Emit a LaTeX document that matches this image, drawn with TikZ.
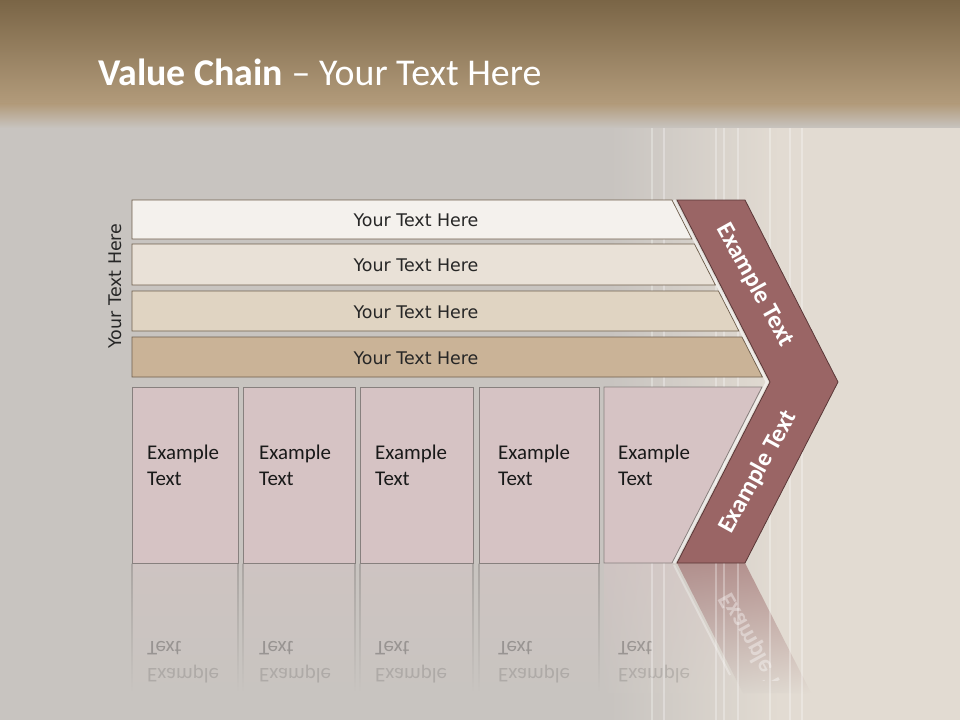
\documentclass[tikz,border=0pt]{standalone}
\usepackage{fontspec}
\setmainfont{Carlito}
\newfontfamily\dejavu{DejaVu Sans}
\usetikzlibrary{calc,shadings}
\definecolor{hdrtop}{RGB}{122,101,70}
\definecolor{hdrbot}{RGB}{178,155,123}
\definecolor{bggrey}{RGB}{200,196,192}
\definecolor{bglight}{RGB}{226,219,210}
\definecolor{barA}{RGB}{244,241,237}
\definecolor{barB}{RGB}{233,225,215}
\definecolor{barC}{RGB}{224,212,194}
\definecolor{barD}{RGB}{202,179,151}
\definecolor{barline}{RGB}{112,96,78}
\definecolor{boxfill}{RGB}{214,195,196}
\definecolor{boxline}{RGB}{135,128,126}
\definecolor{chevfill}{RGB}{154,101,101}
\definecolor{chevline}{RGB}{90,55,55}
\colorlet{bgA}{bglight!39!bggrey}
\colorlet{bgB}{bglight!76!bggrey}

\begin{document}
\begin{tikzpicture}[x=1bp, y=-1bp,
        bartext/.style={font=\dejavu\fontsize{17.5}{20}\selectfont, text=black!85},
        boxtext/.style={font=\fontsize{21}{26}\selectfont, align=left, anchor=west,
            inner sep=0pt, text=black!90},
        chevtext/.style={font=\bfseries\fontsize{25}{28}\selectfont, text=white}]
        \def\Sl{0.511}

        % -- Background: grey on the left, cream on the right --
        \useasboundingbox (0,0) rectangle (960,720);
        \fill[bggrey] (0,0) rectangle (960,720);
        \shade[left color=bggrey, right color=bglight] (610,0) rectangle (780,720);
        \fill[bglight] (780,0) rectangle (960,720);

        % -- Reflection: mirrored lower row, blended into the background --
        \foreach \xa/\xb/\xt in {132/238/147, 243/355/259, 360/473/375, 479/599/498}{
            \shade[top color=boxfill!42!bggrey, bottom color=bggrey] (\xa,563) rectangle (\xb,693);
            \shade[top color=boxline!45!bggrey, bottom color=bggrey] (\xa-0.5,563) rectangle (\xa+0.5,693);
            \shade[top color=boxline!45!bggrey, bottom color=bggrey] (\xb-0.5,563) rectangle (\xb+0.5,693);
            \node[boxtext, opacity=0.28] at (\xt,648) {\scalebox{1}[-1]{Text}};
            \node[boxtext, opacity=0.15] at (\xt,674) {\scalebox{1}[-1]{Example}};
        }
        \shade[shading=bilinear interpolation,
            upper left=boxfill!42!bggrey, upper right=boxfill!42!bgB,
            lower left=bggrey, lower right=bgB]
            (604,563) -- (672,563) -- (739,693) -- (604,693) -- cycle;
        \node[boxtext, opacity=0.28] at (618,648) {\scalebox{1}[-1]{Text}};
        \node[boxtext, opacity=0.15] at (618,674) {\scalebox{1}[-1]{Example}};
        \shade[shading=bilinear interpolation,
            upper left=chevfill!60!bgA, upper right=chevfill!60!bglight,
            lower left=bgA, lower right=bglight]
            (677,563) -- (745,563) -- (811,693) -- (743,693) -- cycle;
        \draw[white, opacity=0.3, line width=2bp] (674,565) -- (730,675);
        \begin{scope}
            \clip (677,563) -- (745,563) -- (805,680) -- (737,680) -- cycle;
            \node[chevtext, rotate=-61, opacity=0.38] at (758,654) {\scalebox{1}[-1]{Example Text}};
        \end{scope}

        % -- Light vertical stripes of the backdrop --
        \foreach \x in {652,664,716,724,738,770,790,802}
            \draw[white, opacity=0.3, line width=1.2bp] (\x,110) -- (\x,720);

        % -- Header band and title --
        \shade[top color=hdrtop, bottom color=hdrbot] (0,0) rectangle (960,104);
        \shade[top color=hdrbot, bottom color=bggrey] (0,104) rectangle (960,128);
        \node[anchor=base west, text=white, inner sep=0pt,
            font=\fontsize{38}{44}\selectfont] (title) at (98,86)
            {\textbf{Value Chain} -- Your Text Here};

        % -- Four stacked bars, right ends follow the chevron edge --
        \foreach \ya/\yb/\col/\nm in {200/239/barA/bar1, 244/285/barB/bar2,
                291/331/barC/bar3, 337/377/barD/bar4}{
            \pgfmathsetmacro{\xa}{672+\Sl*(\ya-200)}
            \pgfmathsetmacro{\xb}{672+\Sl*(\yb-200)}
            \filldraw[fill=\col, draw=barline, line width=0.8bp]
                (132,\ya) -- (\xa,\ya) -- (\xb,\yb) -- (132,\yb) -- cycle;
            \node[bartext] (\nm) at (416,{(\ya+\yb)/2+1}) {Your Text Here};
        }
        \node[bartext, rotate=90] (side) at (115,286) {Your Text Here};

        % -- Lower row of boxes --
        \foreach \xa/\xb/\xt/\nm in {132/238/147/ex1, 243/355/259/ex2,
                360/473/375/ex3, 479/599/498/ex4}{
            \filldraw[fill=boxfill, draw=boxline, line width=0.8bp] (\xa,387) rectangle (\xb,563);
            \node[boxtext] (\nm) at (\xt,465) {Example\\Text};
        }
        \filldraw[fill=boxfill, draw=boxline, line width=0.8bp]
            (604,387) -- (762,387) -- (672,563) -- (604,563) -- cycle;
        \node[boxtext] (ex5) at (618,465) {Example\\Text};

        % -- Chevron with light edge on its inner side --
        \draw[white, opacity=0.55, line width=2.5bp] (674,200) -- (767,382) -- (674,563);
        \filldraw[fill=chevfill, draw=chevline, line width=0.8bp]
            (677,200) -- (745,200) -- (838,382) -- (745,563) -- (677,563) -- (770,382) -- cycle;
        \node[chevtext, rotate=-61] (chevup) at (755,285) {Example Text};
        \node[chevtext, rotate=61] (chevdown) at (758,472) {Example Text};

    \end{tikzpicture}
\end{document}
